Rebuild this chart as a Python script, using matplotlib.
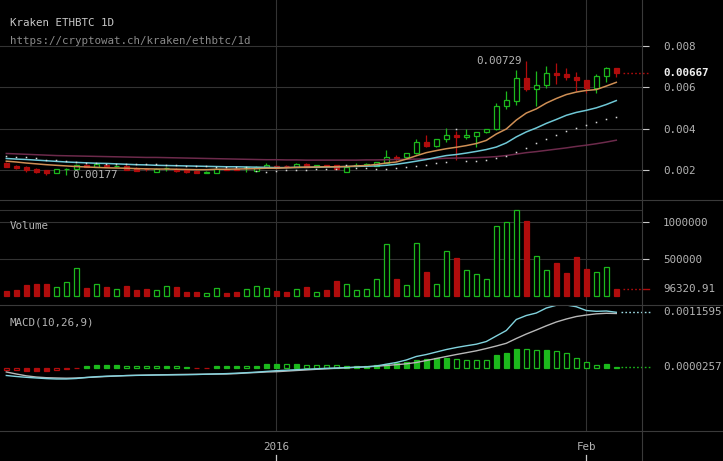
import numpy as np
import pandas as pd
import matplotlib
matplotlib.use("Agg")
import matplotlib.pyplot as plt
import matplotlib.dates as mdates
from matplotlib.lines import Line2D

# ---------------- data ----------------
start_date = "2015-12-05"
title = "Kraken ETHBTC 1D"
url = "https://cryptowat.ch/kraken/ethbtc/1d"

opens = [0.00237, 0.00222, 0.00217, 0.00208, 0.00201, 0.00188, 0.00204, 0.00205, 0.00227, 0.00217,
         0.00226, 0.00220, 0.00221, 0.00212, 0.00206, 0.00193, 0.00210, 0.00208, 0.00203, 0.00198,
         0.00188, 0.00188, 0.00208, 0.00208, 0.00211, 0.00198, 0.00217, 0.00222, 0.00221, 0.00216,
         0.00231, 0.00216, 0.00225, 0.00225, 0.00194, 0.00223, 0.00226, 0.00222, 0.00237, 0.00263,
         0.00263, 0.00282, 0.00335, 0.00316, 0.00349, 0.00369, 0.00359, 0.00363, 0.00383, 0.00398,
         0.00508, 0.00533, 0.00643, 0.00590, 0.00610, 0.00670, 0.00664, 0.00648, 0.00634, 0.00595,
         0.00653, 0.00691]
highs = [0.00239, 0.00227, 0.00220, 0.00212, 0.00203, 0.00208, 0.00212, 0.00229, 0.00229, 0.00231,
         0.00228, 0.00227, 0.00224, 0.00214, 0.00210, 0.00210, 0.00217, 0.00210, 0.00205, 0.00200,
         0.00195, 0.00210, 0.00209, 0.00209, 0.00217, 0.00219, 0.00234, 0.00224, 0.00227, 0.00233,
         0.00233, 0.00227, 0.00227, 0.00227, 0.00225, 0.00234, 0.00233, 0.00242, 0.00298, 0.00272,
         0.00285, 0.00349, 0.00370, 0.00352, 0.00405, 0.00389, 0.00399, 0.00386, 0.00400, 0.00523,
         0.00582, 0.00682, 0.00729, 0.00677, 0.00701, 0.00716, 0.00692, 0.00675, 0.00636, 0.00666,
         0.00697, 0.00693]
lows = [0.00216, 0.00208, 0.00193, 0.00188, 0.00179, 0.00186, 0.00177, 0.00203, 0.00215, 0.00215,
        0.00219, 0.00215, 0.00201, 0.00196, 0.00197, 0.00191, 0.00197, 0.00193, 0.00189, 0.00185,
        0.00186, 0.00187, 0.00201, 0.00201, 0.00193, 0.00196, 0.00215, 0.00211, 0.00213, 0.00214,
        0.00214, 0.00214, 0.00219, 0.00204, 0.00192, 0.00220, 0.00221, 0.00220, 0.00235, 0.00246,
        0.00261, 0.00280, 0.00314, 0.00311, 0.00335, 0.00250, 0.00349, 0.00311, 0.00381, 0.00396,
        0.00494, 0.00513, 0.00581, 0.00508, 0.00595, 0.00614, 0.00635, 0.00582, 0.00571, 0.00571,
        0.00624, 0.00651]
closes = [0.00217, 0.00213, 0.00203, 0.00193, 0.00187, 0.00206, 0.00206, 0.00227, 0.00217, 0.00229,
          0.00221, 0.00222, 0.00203, 0.00198, 0.00204, 0.00208, 0.00212, 0.00195, 0.00191, 0.00187,
          0.00193, 0.00208, 0.00203, 0.00203, 0.00213, 0.00217, 0.00227, 0.00213, 0.00219, 0.00231,
          0.00216, 0.00225, 0.00221, 0.00206, 0.00216, 0.00226, 0.00228, 0.00240, 0.00263, 0.00258,
          0.00283, 0.00335, 0.00316, 0.00349, 0.00369, 0.00359, 0.00369, 0.00383, 0.00398, 0.00508,
          0.00537, 0.00643, 0.00590, 0.00610, 0.00667, 0.00661, 0.00648, 0.00634, 0.00595, 0.00653,
          0.00692, 0.00667]

ma_fast = [0.00244, 0.00240, 0.00235, 0.00231, 0.00227, 0.00224, 0.00221, 0.00218, 0.00216, 0.00214,
           0.00212, 0.00211, 0.00210, 0.00208, 0.00207, 0.00206, 0.00206, 0.00205, 0.00204, 0.00203,
           0.00203, 0.00205, 0.00205, 0.00206, 0.00207, 0.00208, 0.00210, 0.00210, 0.00212, 0.00214,
           0.00215, 0.00216, 0.00217, 0.00217, 0.00218, 0.00221, 0.00223, 0.00228, 0.00235, 0.00240,
           0.00254, 0.00270, 0.00285, 0.00295, 0.00304, 0.00311, 0.00319, 0.00329, 0.00344, 0.00375,
           0.00399, 0.00442, 0.00476, 0.00496, 0.00524, 0.00546, 0.00565, 0.00577, 0.00585, 0.00589,
           0.00606, 0.00624]
ma_mid = [0.00257, 0.00254, 0.00252, 0.00249, 0.00246, 0.00243, 0.00240, 0.00238, 0.00236, 0.00234,
          0.00233, 0.00231, 0.00229, 0.00227, 0.00226, 0.00224, 0.00223, 0.00222, 0.00221, 0.00220,
          0.00219, 0.00218, 0.00217, 0.00217, 0.00216, 0.00215, 0.00214, 0.00213, 0.00213, 0.00214,
          0.00214, 0.00215, 0.00216, 0.00217, 0.00218, 0.00219, 0.00220, 0.00221, 0.00224, 0.00229,
          0.00236, 0.00244, 0.00252, 0.00262, 0.00271, 0.00276, 0.00283, 0.00291, 0.00300, 0.00312,
          0.00332, 0.00361, 0.00385, 0.00404, 0.00426, 0.00445, 0.00465, 0.00479, 0.00489, 0.00501,
          0.00517, 0.00536]
ma_slow = [0.00281, 0.00279, 0.00277, 0.00275, 0.00273, 0.00271, 0.00270, 0.00269, 0.00268, 0.00267,
           0.00266, 0.00265, 0.00264, 0.00263, 0.00262, 0.00262, 0.00261, 0.00260, 0.00259, 0.00258,
           0.00257, 0.00256, 0.00255, 0.00254, 0.00253, 0.00252, 0.00251, 0.00251, 0.00250, 0.00250,
           0.00249, 0.00249, 0.00249, 0.00249, 0.00249, 0.00249, 0.00250, 0.00250, 0.00251, 0.00252,
           0.00253, 0.00254, 0.00255, 0.00256, 0.00258, 0.00259, 0.00260, 0.00261, 0.00263, 0.00266,
           0.00271, 0.00278, 0.00285, 0.00290, 0.00296, 0.00302, 0.00308, 0.00315, 0.00321, 0.00328,
           0.00336, 0.00345]
sar = [0.00267, 0.00263, 0.00263, 0.00257, 0.00252, 0.00249, 0.00245, 0.00240, 0.00237, 0.00234,
       0.00232, 0.00232, 0.00232, 0.00229, 0.00229, 0.00229, 0.00224, 0.00224, 0.00219, 0.00219,
       0.00219, 0.00214, 0.00214, 0.00214, 0.00214, 0.00197, 0.00194, 0.00195, 0.00200, 0.00201,
       0.00201, 0.00205, 0.00205, 0.00205, 0.00226, 0.00209, 0.00209, 0.00205, 0.00205, 0.00210,
       0.00214, 0.00219, 0.00226, 0.00234, 0.00239, 0.00397, 0.00244, 0.00246, 0.00250, 0.00258,
       0.00271, 0.00287, 0.00306, 0.00330, 0.00350, 0.00369, 0.00389, 0.00402, 0.00417, 0.00431,
       0.00446, 0.00456]

volumes = [63000, 77000, 139000, 153000, 153000, 113000, 180000, 369000, 99000, 153000,
           113000, 85000, 126000, 77000, 85000, 72000, 126000, 113000, 45000, 45000,
           31000, 99000, 31000, 45000, 85000, 126000, 99000, 63000, 45000, 85000,
           113000, 45000, 77000, 198000, 153000, 77000, 85000, 221000, 694000, 221000,
           139000, 707000, 315000, 153000, 599000, 504000, 342000, 288000, 221000, 937000,
           991000, 1152000, 1005000, 532000, 342000, 437000, 302000, 518000, 360000, 315000,
           383000, 96320.91]

macd = [-0.000158, -0.000179, -0.000196, -0.000210, -0.000223, -0.000231, -0.000231, -0.000221, -0.000200, -0.000183,
        -0.000173, -0.000167, -0.000160, -0.000156, -0.000152, -0.000148, -0.000146, -0.000144, -0.000142, -0.000138,
        -0.000131, -0.000125, -0.000119, -0.000110, -0.000100, -0.000088, -0.000073, -0.000058, -0.000048, -0.000038,
        -0.000027, -0.000019, -0.000008, -0.000002, 0.000006, 0.000015, 0.000023, 0.000040, 0.000077, 0.000113,
        0.000165, 0.000238, 0.000279, 0.000331, 0.000383, 0.000425, 0.000461, 0.000494, 0.000550, 0.000665,
        0.000779, 0.001009, 0.001092, 0.001144, 0.001248, 0.001305, 0.001311, 0.001275, 0.001196, 0.001179,
        0.001186, 0.0011595]
signal = [-0.000085, -0.000127, -0.000165, -0.000190, -0.000204, -0.000210, -0.000215, -0.000210, -0.000200, -0.000190,
          -0.000179, -0.000169, -0.000160, -0.000154, -0.000150, -0.000146, -0.000142, -0.000138, -0.000135, -0.000133,
          -0.000131, -0.000129, -0.000127, -0.000119, -0.000106, -0.000096, -0.000085, -0.000079, -0.000067, -0.000054,
          -0.000042, -0.000029, -0.000019, -0.000008, 0.000002, 0.000013, 0.000023, 0.000035, 0.000050, 0.000067,
          0.000085, 0.000113, 0.000154, 0.000196, 0.000238, 0.000279, 0.000317, 0.000356, 0.000404, 0.000456,
          0.000513, 0.000613, 0.000706, 0.000790, 0.000877, 0.000957, 0.001019, 0.001071, 0.001102, 0.001127,
          0.001138, 0.001134]
hist = [-0.000040, -0.000035, -0.000058, -0.000062, -0.000064, -0.000040, -0.000020, -0.000008,
        0.000040, 0.000055, 0.000058, 0.000060, 0.000045, 0.000040, 0.000035, 0.000032, 0.000034, 0.000031, 0.000028,
        -0.000008, -0.000005,
        0.000030, 0.000033, 0.000048, 0.000047, 0.000050, 0.000076, 0.000080, 0.000072, 0.000078, 0.000070,
        0.000066, 0.000060, 0.000055, 0.000050, 0.000046, 0.000050, 0.000060, 0.000090, 0.000100, 0.000120,
        0.000160, 0.000180, 0.000200, 0.000215,
        0.000190, 0.000172, 0.000168, 0.000165, 0.000262, 0.000306, 0.000403, 0.000398, 0.000370, 0.000378,
        0.000360, 0.000306, 0.000215, 0.000118, 0.000068, 0.000078, 0.0000257]

tick_dates = ["2016-01-01", "2016-02-01"]
tick_labels = ["2016", "Feb"]
price_ticks = [0.002, 0.004, 0.006, 0.008]
volume_ticks = [500000, 1000000]

# ---------------- style ----------------
plt.rcParams["font.family"] = ["DejaVu Sans Mono", "DejaVu Sans"]
BG = "#000000"
GRID = "#333333"
SEP = "#3a3a3a"
TXT = "#b4b4b4"
GREEN = "#1cb81c"
RED = "#b00c0c"
ORANGE = "#cf8f55"
CYAN = "#6fc8d6"
MAROON = "#6c2a4b"
FS = 7.8

W, H = 723, 461
fig = plt.figure(figsize=(W / 100, H / 100), dpi=100, facecolor=BG)


def fy(py):
    return 1 - py / H


def fx(px):
    return px / W


RIGHT = 642
ax_p = fig.add_axes([0, fy(200), fx(RIGHT), 200 / H])
ax_v = fig.add_axes([0, fy(305), fx(RIGHT), 105 / H])
ax_m = fig.add_axes([0, fy(431), fx(RIGHT), 126 / H])

o = np.array(opens); h_ = np.array(highs); l_ = np.array(lows); c = np.array(closes)
dates = pd.date_range(start_date, periods=len(closes), freq="D")
x = mdates.date2num(dates)
tx = mdates.date2num(pd.to_datetime(tick_dates))
xlim = (x[0] - 0.63, x[-1] + 2.57)

for ax in (ax_p, ax_v, ax_m):
    ax.set_facecolor(BG)
    for s in ax.spines.values():
        s.set_visible(False)
    ax.set_xlim(*xlim)
    ax.set_xticks(tx)
    ax.tick_params(axis="x", length=0, labelbottom=False)
    ax.grid(axis="x", color=GRID, lw=0.8)
    ax.set_axisbelow(True)

# ---------------- price panel ----------------
ax_p.set_ylim(0.000568, 0.010208)
ax_p.yaxis.tick_right()
ax_p.set_yticks(price_ticks)
ax_p.set_yticklabels([f"{t:.3f}" for t in price_ticks])
ax_p.tick_params(axis="y", length=5, width=0.8, color="#c8c8c8", pad=10,
                 labelcolor=TXT, labelsize=FS)
ax_p.grid(axis="y", color=GRID, lw=0.8)

up = c >= o
edge = np.where(up, GREEN, RED)
face = np.where(up, BG, RED)
blo = np.minimum(o, c)
bhi = np.maximum(o, c)
bh = np.maximum(bhi - blo, 0.00003)
ax_p.vlines(x, bhi, h_, colors=edge, lw=0.9, zorder=2)
ax_p.vlines(x, l_, blo, colors=edge, lw=0.9, zorder=2)
ax_p.bar(x, bh, bottom=blo, width=0.52, color=face, edgecolor=edge, linewidth=0.9, zorder=3)

ax_p.plot(x, ma_slow, color=MAROON, lw=1.1, zorder=4)
ax_p.plot(x, ma_mid, color=CYAN, lw=1.1, zorder=4)
ax_p.plot(x, ma_fast, color=ORANGE, lw=1.1, zorder=4)
ax_p.plot(x, sar, ls="none", marker="s", ms=1.1, mew=0, color="#d8d8d8", zorder=5)

imax = int(np.argmax(h_))
imin = int(np.argmin(l_))
ax_p.text(x[imax] - 0.42, h_[imax], f"{h_[imax]:.5f}", ha="right", va="center",
          color=TXT, fontsize=FS, zorder=6)
ax_p.text(x[imin] + 0.64, l_[imin], f"{l_[imin]:.5f}", ha="left", va="center",
          color=TXT, fontsize=FS, zorder=6)

ax_p.plot([x[-1] + 0.7, xlim[1] + 0.7], [c[-1], c[-1]], ls=(0, (1.2, 1.6)), color=RED,
          lw=1.0, clip_on=False)
ax_p.text(663 / RIGHT, c[-1], f"{c[-1]:.5f}", transform=ax_p.get_yaxis_transform(),
          ha="left", va="center", color="#f0f0f0", fontsize=FS, fontweight="bold")

# ---------------- volume panel ----------------
ax_v.set_ylim(-125676, 1293243)
ax_v.yaxis.tick_right()
ax_v.set_yticks(volume_ticks)
ax_v.set_yticklabels([f"{t:d}" for t in volume_ticks])
ax_v.tick_params(axis="y", length=5, width=0.8, color="#c8c8c8", pad=10,
                 labelcolor=TXT, labelsize=FS)
ax_v.grid(axis="y", color=GRID, lw=0.8)
ax_v.axhline(max(volumes), color=GRID, lw=0.8, zorder=0)
v = np.array(volumes)
ax_v.bar(x, v, width=0.52, color=face, edgecolor=edge, linewidth=0.9, zorder=3)
ax_v.plot([x[-1] + 0.7, xlim[1]], [v[-1], v[-1]], ls=(0, (1.2, 1.6)), color=RED, lw=1.0)
ax_v.plot([xlim[1], xlim[1] + 0.7], [v[-1], v[-1]], color=RED, lw=1.0, clip_on=False)
ax_v.text(663 / RIGHT, v[-1], f"{v[-1]:.2f}", transform=ax_v.get_yaxis_transform(),
          ha="left", va="center", color=TXT, fontsize=FS)
ax_v.text(10 / RIGHT, 1 - 29.3 / 105, "Volume", transform=ax_v.transAxes,
          ha="left", va="baseline", color=TXT, fontsize=FS)

# ---------------- MACD panel ----------------
ax_m.set_ylim(-0.001315, 0.001311)
ax_m.set_yticks([])
hv = np.array(hist)
prev = np.concatenate([[hv[0]], hv[:-1]])
pos = hv >= 0
filled = np.where(pos, hv > prev, hv < prev)
hcol = np.where(pos, GREEN, RED)
hface = np.where(filled, hcol, BG)
ax_m.bar(x, hv, width=0.52, color=hface, edgecolor=hcol, linewidth=0.9, zorder=3)
ax_m.plot(x, signal, color="#b8b8b8", lw=1.0, zorder=4)
ax_m.plot(x, macd, color="#82d3de", lw=1.0, zorder=5)
ax_m.plot([x[-1] + 0.5, xlim[1] + 0.8], [macd[-1]] * 2, ls=(0, (1.2, 1.6)),
          color="#9fdde6", lw=1.0, clip_on=False)
ax_m.plot([x[-1] + 0.5, xlim[1] + 0.8], [hv[-1]] * 2, ls=(0, (1.2, 1.6)),
          color=GREEN, lw=1.0, clip_on=False)
ax_m.text(663 / RIGHT, macd[-1], f"{macd[-1]:.7f}", transform=ax_m.get_yaxis_transform(),
          ha="left", va="center", color=TXT, fontsize=FS, clip_on=False)
ax_m.text(663 / RIGHT, hv[-1], f"{hv[-1]:.7f}", transform=ax_m.get_yaxis_transform(),
          ha="left", va="center", color=TXT, fontsize=FS, clip_on=False)
ax_m.text(10 / RIGHT, 1 - 20 / 126, "MACD(10,26,9)", transform=ax_m.transAxes,
          ha="left", va="baseline", color=TXT, fontsize=FS)

# x labels and bottom ticks
for xd, lab in zip(tx, tick_labels):
    ax_m.text(xd, fy(447), lab, transform=ax_m.get_xaxis_transform() if False else
              matplotlib.transforms.blended_transform_factory(ax_m.transData, fig.transFigure),
              ha="center", va="center", color=TXT, fontsize=FS)
    ax_m.plot([xd, xd], [fy(455), fy(461)],
              transform=matplotlib.transforms.blended_transform_factory(ax_m.transData, fig.transFigure),
              color="#c8c8c8", lw=0.9, clip_on=False)

# ---------------- frame lines ----------------
for py in (200, 305, 431):
    fig.add_artist(Line2D([0, 1], [fy(py), fy(py)], transform=fig.transFigure, color=SEP, lw=0.8))
fig.add_artist(Line2D([fx(RIGHT), fx(RIGHT)], [0, 1], transform=fig.transFigure, color=SEP, lw=0.8))

# ---------------- titles ----------------
fig.text(fx(10), fy(26), title, ha="left", va="baseline", color="#c8c8c8", fontsize=FS)
fig.text(fx(10), fy(44), url, ha="left", va="baseline", color="#8a8a8a", fontsize=FS)

fig.savefig("out.png", dpi=100, facecolor=BG)
